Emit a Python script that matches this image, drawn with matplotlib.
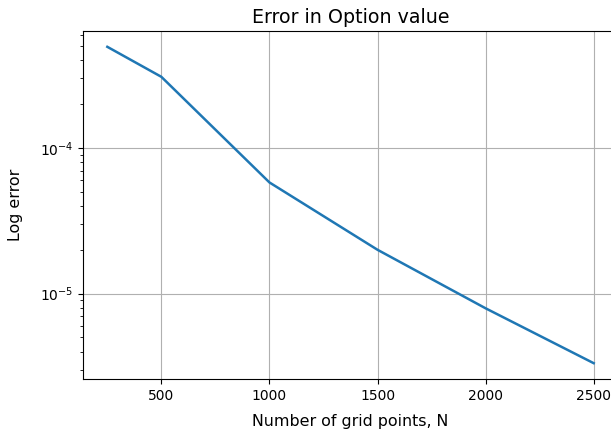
import matplotlib
matplotlib.use("Agg")
import matplotlib.pyplot as plt

grid_points = [250, 500, 1000, 1500, 2000, 2500]
errors = [4.95e-4, 3.08e-4, 5.8e-5, 2.0e-5, 7.93e-6, 3.33e-6]

fig = plt.figure(figsize=(6.11, 4.32), dpi=100)
ax = fig.add_axes([83/611, 53/432, 535/611, 348/432])
ax.plot(grid_points, errors, color="#1f77b4", linewidth=1.8)
ax.set_yscale("log")
ax.grid(True)
ax.set_title("Error in Option value", fontsize=13.7)
ax.set_xlabel("Number of grid points, N", fontsize=11.4, labelpad=8)
ax.set_ylabel("Log error", fontsize=11.4, labelpad=12)
ax.set_xticks([500, 1000, 1500, 2000, 2500])
fig.savefig("out.png", dpi=100)
